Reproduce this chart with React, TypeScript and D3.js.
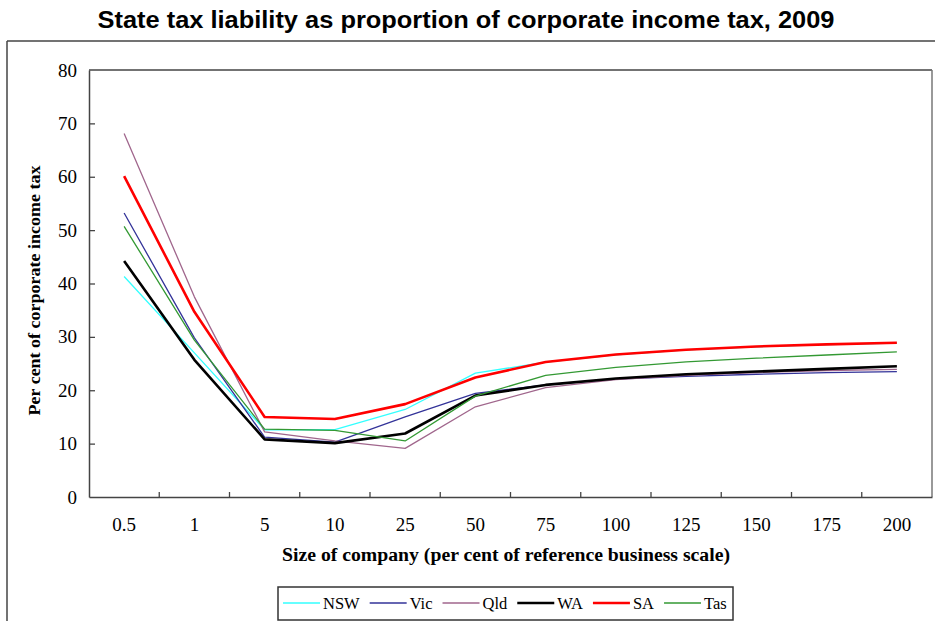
import React, { useEffect, useRef } from "react";
import * as d3 from "d3";

const categories = ["0.5", "1", "5", "10", "25", "50", "75", "100", "125", "150", "175", "200"];
const yTicks = [0, 10, 20, 30, 40, 50, 60, 70, 80];

const nsw = [41.3, 27.0, 12.6, 12.6, 16.4, 23.2, 25.25, 26.65, 27.55, 28.15, 28.55, 28.85];
const vic = [53.2, 29.8, 11.2, 10.3, 15.0, 19.4, 21.0, 22.1, 22.6, 23.0, 23.3, 23.5];
const qld = [68.1, 37.5, 12.2, 10.5, 9.1, 16.9, 20.5, 22.0, 22.8, 23.3, 23.7, 23.9];
const wa = [44.2, 25.7, 10.8, 10.1, 11.9, 19.0, 21.0, 22.2, 23.0, 23.5, 24.0, 24.5];
const sa = [60.1, 34.7, 15.0, 14.6, 17.4, 22.4, 25.3, 26.7, 27.6, 28.2, 28.6, 28.9];
const tas = [50.7, 29.4, 12.7, 12.5, 10.5, 18.9, 22.8, 24.3, 25.3, 26.0, 26.6, 27.2];

const seriesNames = ["NSW", "Vic", "Qld", "WA", "SA", "Tas"];
const seriesValues = [nsw, vic, qld, wa, sa, tas];
const seriesColors = ["#33ffff", "#333399", "#a0668c", "#000000", "#ff0000", "#339933"];
const seriesWidths = [1.3, 1.3, 1.3, 2.6, 2.6, 1.3];

const W = 935;
const H = 621;
const plot = { left: 89, right: 932, top: 70, bottom: 497 };
const serif = "'Liberation Serif', 'Times New Roman', serif";
const sans = "'Liberation Sans', Arial, sans-serif";

export default function App() {
  const ref = useRef<SVGSVGElement>(null);

  useEffect(() => {
    const svg = d3.select(ref.current);
    svg.selectAll("*").remove();

    const x = d3.scaleBand<string>().domain(categories).range([plot.left, plot.right]).padding(0);
    const y = d3.scaleLinear().domain([0, 80]).range([plot.bottom, plot.top]);

    // outer frame
    svg.append("line").attr("x1", 7).attr("x2", W + 5).attr("y1", 41).attr("y2", 41)
      .attr("stroke", "#444").attr("stroke-width", 1.5);
    svg.append("line").attr("x1", 7).attr("x2", 7).attr("y1", 41).attr("y2", H + 5)
      .attr("stroke", "#444").attr("stroke-width", 1.5);

    // title
    svg.append("text")
      .attr("x", 466).attr("y", 28)
      .attr("text-anchor", "middle")
      .attr("font-family", sans).attr("font-weight", "bold").attr("font-size", 23)
      .attr("textLength", 737).attr("lengthAdjust", "spacingAndGlyphs")
      .attr("fill", "#000")
      .text("State tax liability as proportion of corporate income tax, 2009");

    // plot frame (top & right)
    svg.append("line").attr("x1", plot.left).attr("x2", plot.right).attr("y1", plot.top).attr("y2", plot.top)
      .attr("stroke", "#444").attr("stroke-width", 1.5);
    svg.append("line").attr("x1", plot.right).attr("x2", plot.right).attr("y1", plot.top).attr("y2", plot.bottom)
      .attr("stroke", "#777").attr("stroke-width", 1.5);

    // y axis
    const yAxis = d3.axisLeft(y).tickValues(yTicks).tickSize(-6).tickPadding(12).tickSizeOuter(0);
    const gy = svg.append("g").attr("transform", `translate(${plot.left},0)`).call(yAxis);
    gy.select(".domain").attr("stroke", "#444").attr("stroke-width", 1.5);
    gy.selectAll(".tick line").attr("stroke", "#444").attr("stroke-width", 1.3);
    gy.selectAll(".tick text").attr("font-family", serif).attr("font-size", 19).attr("fill", "#000");
    gy.selectAll(".tick").filter((d: any) => d === 80).select("line").remove();
    gy.selectAll(".tick").filter((d: any) => d === 0).select("line").remove();

    // x axis
    const xAxis = d3.axisBottom(x).tickSize(0).tickPadding(0).tickSizeOuter(0);
    const gx = svg.append("g").attr("transform", `translate(0,${plot.bottom})`).call(xAxis);
    gx.select(".domain").attr("stroke", "#444").attr("stroke-width", 1.5);
    gx.selectAll(".tick text").attr("font-family", serif).attr("font-size", 19).attr("fill", "#000")
      .attr("y", 34).attr("dy", 0);
    // boundary tick marks between categories (inside)
    const bounds = categories.slice(1).map((c) => x(c) as number);
    svg.append("g").selectAll("line").data(bounds).enter().append("line")
      .attr("x1", (d) => d).attr("x2", (d) => d)
      .attr("y1", plot.bottom).attr("y2", plot.bottom - 5)
      .attr("stroke", "#444").attr("stroke-width", 1.3);

    // axis titles
    svg.append("text")
      .attr("transform", `translate(40,${(plot.top + plot.bottom) / 2 + 7}) rotate(-90)`)
      .attr("text-anchor", "middle")
      .attr("font-family", serif).attr("font-weight", "bold").attr("font-size", 17)
      .attr("textLength", 250).attr("lengthAdjust", "spacingAndGlyphs")
      .attr("fill", "#000")
      .text("Per cent of corporate income tax");
    svg.append("text")
      .attr("x", 506).attr("y", 561)
      .attr("text-anchor", "middle")
      .attr("font-family", serif).attr("font-weight", "bold").attr("font-size", 18)
      .attr("textLength", 448).attr("lengthAdjust", "spacingAndGlyphs")
      .attr("fill", "#000")
      .text("Size of company (per cent of reference business scale)");

    // lines
    const line = d3.line<number>()
      .x((_, i) => (x(categories[i]) as number) + x.bandwidth() / 2)
      .y((d) => y(d));
    seriesValues.forEach((vals, i) => {
      svg.append("path")
        .attr("d", line(vals) as string)
        .attr("fill", "none")
        .attr("stroke", seriesColors[i])
        .attr("stroke-width", seriesWidths[i])
        .attr("stroke-linejoin", "round");
    });

    // legend
    const lg = svg.append("g");
    lg.append("rect").attr("x", 278).attr("y", 587).attr("width", 455).attr("height", 33)
      .attr("fill", "#fff").attr("stroke", "#333").attr("stroke-width", 1.5);
    let cx = 283;
    const clip = svg.append("defs").append("clipPath").attr("id", "legclip");
    clip.append("rect").attr("x", 278).attr("y", 587).attr("width", 455).attr("height", 33);
    const items = lg.append("g").attr("clip-path", "url(#legclip)");
    seriesNames.forEach((name, i) => {
      items.append("line").attr("x1", cx).attr("x2", cx + 37).attr("y1", 603).attr("y2", 603)
        .attr("stroke", seriesColors[i]).attr("stroke-width", seriesWidths[i]);
      const t = items.append("text").attr("x", cx + 40).attr("y", 609)
        .attr("font-family", serif).attr("font-size", 16.5).attr("fill", "#000").text(name);
      const w = (t.node() as SVGTextElement).getComputedTextLength();
      cx = cx + 40 + w + 10;
    });
  }, []);

  return (
    <svg
      ref={ref}
      width={W}
      height={H}
      style={{ position: "absolute", left: 0, top: 0, background: "#fff" }}
    />
  );
}
